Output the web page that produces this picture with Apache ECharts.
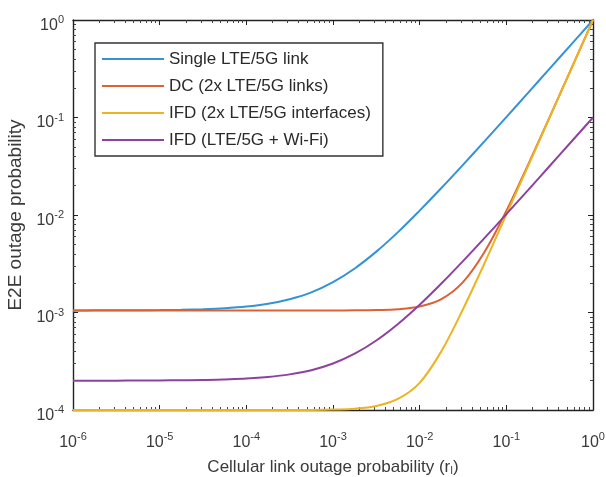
<!DOCTYPE html>
<html>
<head>
<meta charset="utf-8">
<script src="https://cdn.jsdelivr.net/npm/echarts@6/dist/echarts.min.js"></script>
<style>html,body{margin:0;padding:0;background:#fff}#c{width:606px;height:477px}</style>
</head>
<body>
<div id="c"></div>
<script>
const seriesNames = ['Single LTE/5G link', 'DC (2x LTE/5G links)', 'IFD (2x LTE/5G interfaces)', 'IFD (LTE/5G + Wi-Fi)'];
const xValues = [1e-6, 1.78e-6, 3.16e-6, 5.62e-6, 1e-5, 1.78e-5, 3.16e-5, 5.62e-5, 1e-4, 1.78e-4, 3.16e-4, 5.62e-4,
  1e-3, 1.78e-3, 3.16e-3, 5.62e-3, 1e-2, 1.78e-2, 3.16e-2, 5.62e-2, 0.1, 0.178, 0.316, 0.562, 1];
const singleLink = [0.00105, 0.001052, 0.001053, 0.001056, 0.00106, 0.001068, 0.001082, 0.001106, 0.00115, 0.00123, 0.00137, 0.00161,
  0.00205, 0.00283, 0.00421, 0.00667, 0.0111, 0.0189, 0.0327, 0.0573, 0.101, 0.179, 0.317, 0.563, 1];
const dcLinks = [0.00105, 0.00105, 0.00105, 0.00105, 0.00105, 0.00105, 0.00105, 0.00105, 0.00105, 0.00105, 0.00105, 0.00105,
  0.00105, 0.001053, 0.00106, 0.00108, 0.00115, 0.00137, 0.00205, 0.0042, 0.011, 0.0327, 0.101, 0.317, 1];
const ifdInterfaces = [0.0001, 0.0001, 0.0001, 0.0001, 0.0001, 0.0001, 0.0001, 0.0001, 0.0001, 0.0001, 0.0001, 0.0001,
  0.000101, 0.000103, 0.00011, 0.00013, 0.00019, 0.0004, 0.00108, 0.00322, 0.0101, 0.0317, 0.1001, 0.316, 1];
const ifdWifi = [0.0002, 0.0002, 0.0002, 0.0002005, 0.000201, 0.000202, 0.000203, 0.000206, 0.00021, 0.000218, 0.000232, 0.000256,
  0.0003, 0.000378, 0.000516, 0.000762, 0.0012, 0.00198, 0.00336, 0.00582, 0.0102, 0.018, 0.0318, 0.0564, 0.1];
const colors = ['#3593d4', '#db6234', '#edb323', '#8d42a0'];
const xRange = [1e-6, 1];
const yRange = [1e-4, 1];

const chart = echarts.init(document.getElementById('c'), null, {renderer: 'canvas'});
const fontFamily = 'Liberation Sans, Arial, sans-serif';
const powLabel = v => '{b|10}{s|' + Math.round(Math.log10(v)) + '}';
const richLbl = {
  b: {fontSize: 16, lineHeight: 16, color: '#3a3a3a', fontFamily: fontFamily, padding: [11, 0, 0, 0]},
  s: {fontSize: 11, lineHeight: 12, color: '#3a3a3a', fontFamily: fontFamily}
};
function axisBase(extra) {
  return Object.assign({
    type: 'log', logBase: 10, interval: 1,
    axisLine: {show: true, onZero: false, lineStyle: {color: '#222', width: 1.4}},
    axisTick: {show: true, inside: true, length: 5, lineStyle: {color: '#222'}},
    minorTick: {show: true, inside: true, length: 3, splitNumber: 9, lineStyle: {color: '#444'}},
    splitLine: {show: false},
    minorSplitLine: {show: false}
  }, extra);
}
const data = [singleLink, dcLinks, ifdInterfaces, ifdWifi];
const option = {
  backgroundColor: '#fff',
  animation: false,
  grid: {left: 73, right: 13, top: 20, bottom: 67, containLabel: false, outerBoundsMode: 'none'},
  legend: {
    data: seriesNames,
    orient: 'vertical',
    left: 95, top: 43,
    width: 288,
    icon: 'rect', itemWidth: 62, itemHeight: 2, itemGap: 7,
    padding: [6, 12, 6, 7],
    backgroundColor: '#fff', borderColor: '#333', borderWidth: 1.4,
    textStyle: {fontSize: 17, lineHeight: 20, color: '#2a2a2a', fontFamily: fontFamily}
  },
  xAxis: [
    axisBase({min: xRange[0], max: xRange[1], position: 'bottom',
      name: 'Cellular link outage probability (r{sub|I})', nameLocation: 'middle', nameGap: 48,
      nameTextStyle: {fontSize: 17, lineHeight: 18, color: '#3a3a3a', fontFamily: fontFamily,
        rich: {sub: {fontSize: 10, lineHeight: 10, color: '#3a3a3a', padding: [9, 0, 0, 0]}}},
      axisLabel: {formatter: powLabel, rich: richLbl, margin: 19, showMinLabel: true, showMaxLabel: true}}),
    axisBase({min: xRange[0], max: xRange[1], position: 'top', axisLabel: {show: false}})
  ],
  yAxis: [
    axisBase({min: yRange[0], max: yRange[1], position: 'left',
      name: 'E2E outage probability', nameLocation: 'middle', nameGap: 43,
      nameTextStyle: {fontSize: 19, color: '#3a3a3a', fontFamily: fontFamily},
      axisLabel: {formatter: powLabel, rich: richLbl, margin: 9, showMinLabel: true, showMaxLabel: true}}),
    axisBase({min: yRange[0], max: yRange[1], position: 'right', axisLabel: {show: false}})
  ],
  series: seriesNames.map((n, i) => ({
    name: n, type: 'line', xAxisIndex: 0, yAxisIndex: 0,
    data: xValues.map((x, j) => [x, data[i][j]]),
    showSymbol: false, smooth: 0.35, clip: false,
    lineStyle: {color: colors[i], width: 2}, itemStyle: {color: colors[i]}
  }))
};
chart.setOption(option);
</script>
</body>
</html>
